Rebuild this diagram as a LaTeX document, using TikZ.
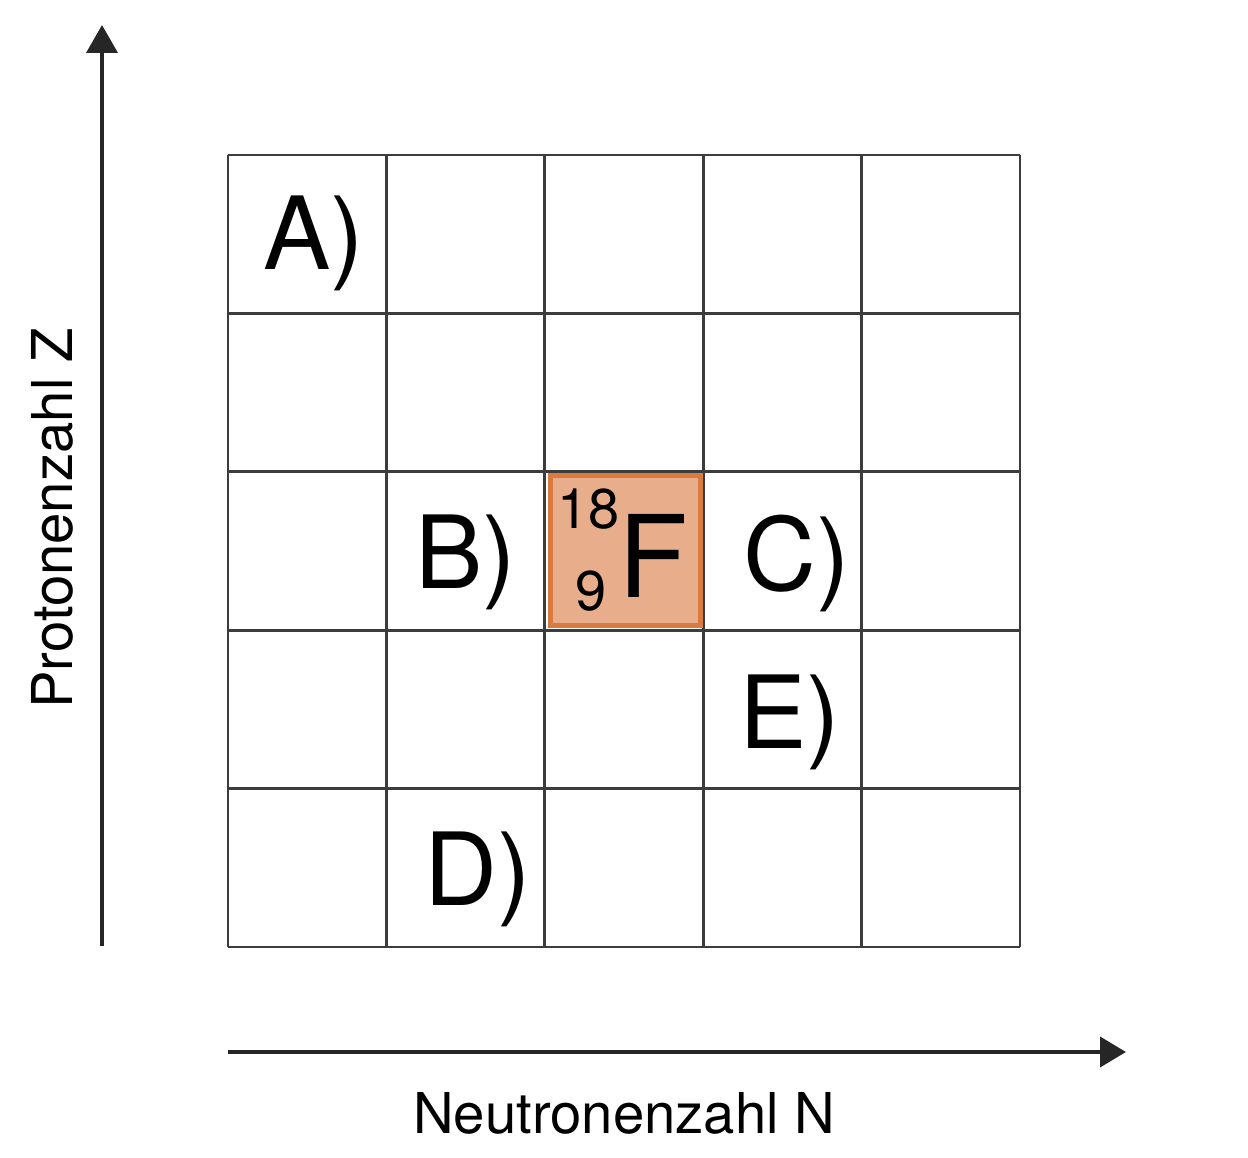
\documentclass[tikz,border=0pt]{standalone}
\usepackage{fontspec}
\setmainfont{TeX Gyre Heros}
\usetikzlibrary{arrows.meta}
\definecolor{isofill}{HTML}{E8AE8C}
\definecolor{isoline}{HTML}{D97A40}
\definecolor{gridgray}{HTML}{3C3C3C}

\begin{document}
\begin{tikzpicture}[x=1pt,y=-1pt,
  gridline/.style={gridgray,line width=2.8pt},
  axis/.style={black!85,line width=4pt},
  cellmark/.style={anchor=base west,inner sep=0,font=\fontsize{101}{101}\selectfont},
  axislabel/.style={anchor=base west,inner sep=0,font=\fontsize{56.3}{56}\selectfont}]

\useasboundingbox (0,0) rectangle (1248,1158);

% chart grid
\foreach \i in {0,...,5} {
  \draw [gridline] (228+158.4*\i,155) -- (228+158.4*\i,947);
  \draw [gridline] (228,155+158.4*\i) -- (1020,155+158.4*\i);
}

% fluorine cell
\node [draw=isoline,fill=isofill,line width=5pt,minimum size=150pt,inner sep=0] (fcell) at (625.5,550.5) {};
\node [anchor=base east,inner sep=0,font=\fontsize{56}{56}\selectfont] (fmass) at (620,528) {18};
\node [anchor=base east,inner sep=0,font=\fontsize{56}{56}\selectfont] (fcharge) at (607,610) {9};
\node [anchor=base west,inner sep=0,font=\fontsize{114}{114}\selectfont] (fsym) at (618,597) {F};

% answer cells
\node [cellmark] (cella) at (263,270) {A)};
\node [cellmark] (cellb) at (415,588) {B)};
\node [cellmark] (cellc) at (743,590) {C)};
\node [cellmark] (celld) at (424,905) {D)};
\node [cellmark] (celle) at (739,748) {E)};

% axes
\coordinate (zfoot) at (102,946);
\coordinate (ztip) at (102,25);
\coordinate (nfoot) at (228,1052);
\coordinate (ntip) at (1126,1052);
\draw [axis,arrows={-Triangle[length=28pt,width=31pt]}] (zfoot) -- (ztip);
\draw [axis,arrows={-Triangle[length=26pt,width=30pt]}] (nfoot) -- (ntip);

\node [axislabel] (nlabel) at (413,1133) {Neutronenzahl N};
\node [axislabel,rotate=90] (zlabel) at (72,709) {Protonenzahl Z};

\end{tikzpicture}
\end{document}
